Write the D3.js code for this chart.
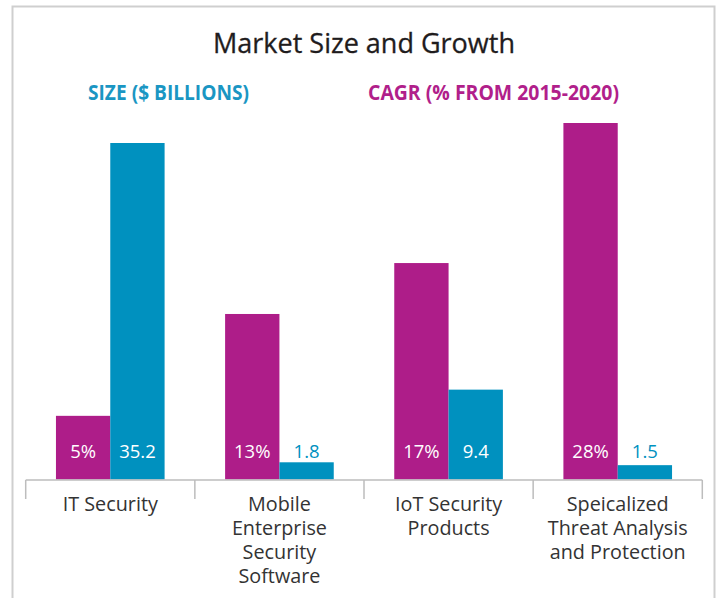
<!DOCTYPE html>
<html>
<head>
<meta charset="utf-8">
<script src="https://cdn.jsdelivr.net/npm/d3@7"></script>
<style>
  html, body { margin: 0; padding: 0; background: #fff; }
  svg { display: block; }
</style>
</head>
<body>
<svg id="chart" width="717" height="598"></svg>
<script>
// Market segments and their two measures
const categories = [
  "IT Security",
  "Mobile Enterprise Security Software",
  "IoT Security Products",
  "Speicalized Threat Analysis and Protection"
];
const categoryLines = [
  ["IT Security"],
  ["Mobile", "Enterprise", "Security", "Software"],
  ["IoT Security", "Products"],
  ["Speicalized", "Threat Analysis", "and Protection"]
];
const cagrValues = [5, 13, 17, 28];          // % growth 2015-2020
const sizeValues = [35.2, 1.8, 9.4, 1.5];    // $ billions
const seriesKeys = ["cagr", "size"];

const MAGENTA = "#AE1D89";
const BLUE = "#0091BF";
const FONT = "'Open Sans', 'DejaVu Sans', sans-serif";

const svg = d3.select("#chart");

// frame
svg.append("path")
  .attr("d", "M12.5,620 V6.5 H714.5 V620")
  .attr("fill", "none")
  .attr("stroke", "#cfcfcf")
  .attr("stroke-width", 2);

// title
svg.append("text")
  .attr("x", 364).attr("y", 52.5)
  .attr("text-anchor", "middle")
  .attr("font-family", FONT)
  .attr("font-size", 26.5)
  .attr("fill", "#1f1c1d")
  .attr("stroke", "#1f1c1d")
  .attr("stroke-width", 0.3)
  .attr("textLength", 302)
  .attr("lengthAdjust", "spacingAndGlyphs")
  .text("Market Size and Growth");

// series headings
svg.append("text")
  .attr("x", 88).attr("y", 100)
  .attr("font-family", FONT)
  .attr("font-weight", 700)
  .attr("font-size", 21)
  .attr("fill", "#1a96c3")
  .attr("textLength", 161)
  .attr("lengthAdjust", "spacingAndGlyphs")
  .text("SIZE ($ BILLIONS)");
svg.append("text")
  .attr("x", 368).attr("y", 100)
  .attr("font-family", FONT)
  .attr("font-weight", 700)
  .attr("font-size", 21)
  .attr("fill", "#b11f8b")
  .attr("textLength", 251)
  .attr("lengthAdjust", "spacingAndGlyphs")
  .text("CAGR (% FROM 2015-2020)");

// scales
const baseY = 479.5;
const x = d3.scaleBand().domain(categories).range([25.7, 702.3]).padding(0);
const xs = d3.scaleBand().domain(seriesKeys).range([0, x.bandwidth()]).paddingInner(0).paddingOuter(0.557);
const yCagr = d3.scaleLinear().domain([0, d3.max(cagrValues)]).range([baseY, 123]);
const ySize = d3.scaleLinear().domain([0, d3.max(sizeValues)]).range([baseY, 143]);

const rows = categories.map((c, i) => ({
  cat: c,
  lines: categoryLines[i],
  vals: [
    { key: "cagr", v: cagrValues[i], y: yCagr, color: MAGENTA, label: cagrValues[i] + "%" },
    { key: "size", v: sizeValues[i], y: ySize, color: BLUE, label: d3.format(".1f")(sizeValues[i]) }
  ]
}));

const groups = svg.append("g").selectAll("g")
  .data(rows).join("g")
  .attr("transform", d => `translate(${x(d.cat)},0)`);

groups.selectAll("rect")
  .data(d => d.vals).join("rect")
  .attr("x", d => xs(d.key))
  .attr("width", xs.bandwidth())
  .attr("y", d => d.y(d.v))
  .attr("height", d => baseY - d.y(d.v))
  .attr("fill", d => d.color);

// value labels: inside tall bars in white, above short bars in series colour
const labelY = 457.5;
groups.selectAll("text.val")
  .data(d => d.vals).join("text")
  .attr("class", "val")
  .attr("x", d => xs(d.key) + xs.bandwidth() / 2)
  .attr("y", labelY)
  .attr("text-anchor", "middle")
  .attr("font-family", FONT)
  .attr("font-size", 18.5)
  .attr("fill", d => d.y(d.v) < labelY - 20 ? "#fff" : d.color)
  .text(d => d.label);

// category axis with ticks at band boundaries
const axisG = svg.append("g").attr("transform", `translate(0,${baseY + 0.5})`);
const [x0, x1] = x.range();
axisG.append("line")
  .attr("x1", x0).attr("x2", x1)
  .attr("stroke", "#bdbdbd").attr("stroke-width", 1.5);
const bounds = categories.map(c => x(c)).concat([x1]);
axisG.selectAll("line.tick")
  .data(bounds).join("line")
  .attr("class", "tick")
  .attr("x1", d => d).attr("x2", d => d)
  .attr("y1", 0).attr("y2", 19)
  .attr("stroke", "#bdbdbd").attr("stroke-width", 1.5);

const catText = axisG.selectAll("text.cat")
  .data(rows).join("text")
  .attr("class", "cat")
  .attr("text-anchor", "middle")
  .attr("font-family", FONT)
  .attr("font-size", 19.8)
  .attr("fill", "#333");
catText.selectAll("tspan")
  .data(d => d.lines.map(l => ({ l, cx: x(d.cat) + x.bandwidth() / 2 })))
  .join("tspan")
  .attr("x", d => d.cx)
  .attr("y", (d, i) => 30.5 + i * 24)
  .text(d => d.l);
</script>
</body>
</html>
